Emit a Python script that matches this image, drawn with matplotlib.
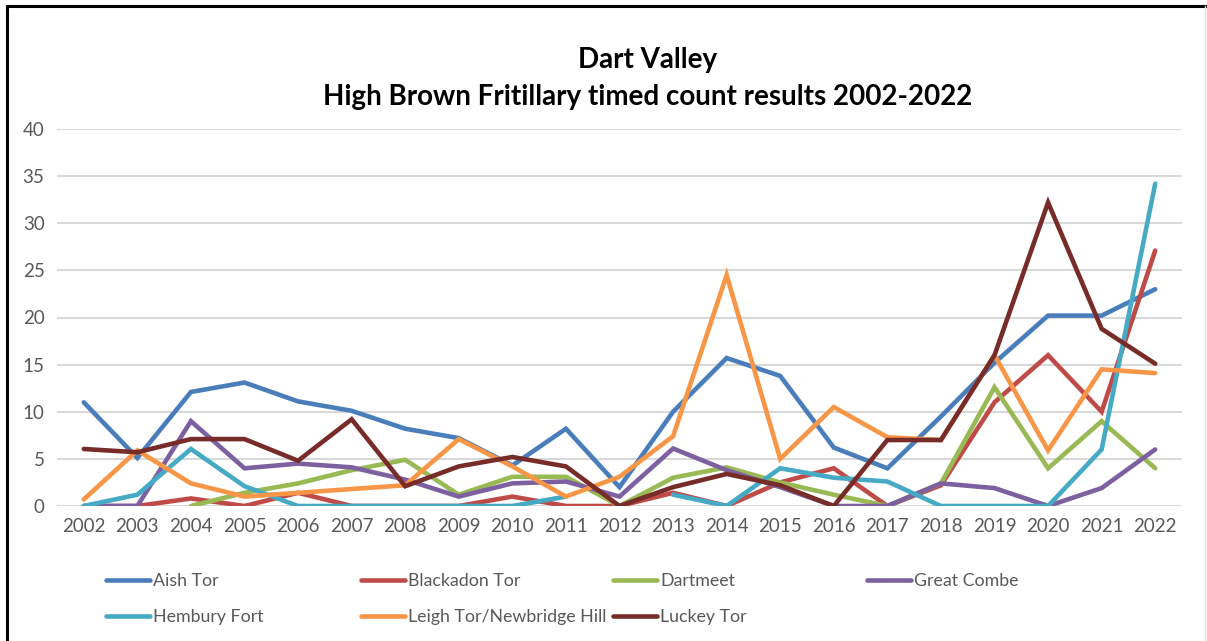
import numpy as np
import matplotlib
matplotlib.use('Agg')
import matplotlib.pyplot as plt
from matplotlib.lines import Line2D

plt.rcParams['font.family'] = ['Lato', 'DejaVu Sans']

# ── Data ─────────────────────────────────────────────────────────────────────
years = list(range(2002, 2023))
nan = np.nan

aish_tor = [11, 5.1, 12.1, 13.1, 11.1, 10.1, 8.2, 7.2, 4.3, 8.2, 2.0,
            10, 15.7, 13.8, 6.2, 4, 9.5, 15.2, 20.2, 20.2, 23]
blackadon_tor = [0, 0, 0.8, 0, 1.4, 0, 0, 0, 1.0, 0, 0,
                 1.4, 0, 2.5, 4, 0, 2.2, 11, 16, 10, 27.1]
dartmeet = [nan, nan, 0, 1.4, 2.4, 3.8, 4.9, 1.2, 3.1, 3.1, 0,
            3.0, 4.1, 2.5, 1.2, 0, 2.4, 12.6, 4, 9, 4]
great_combe = [0, 0, 9, 4.0, 4.5, 4.1, 2.8, 1.0, 2.4, 2.6, 1.0,
               6.1, 3.8, 2, 0, 0, 2.4, 1.9, 0, 1.9, 6]
hembury_fort = [0, 1.2, 6.05, 2.1, 0, 0, 0, 0, 0, 1.0, nan,
                1.2, 0, 4, 3, 2.6, 0, 0, 0, 6, 34.2]
leigh_tor = [0.7, 5.9, 2.4, 1.0, 1.4, 1.8, 2.2, 7.1, 4.2, 1.0, 3.1,
             7.4, 24.5, 5, 10.5, 7.3, 7, 16, 5.9, 14.5, 14.1]
luckey_tor = [6.05, 5.7, 7.1, 7.1, 4.8, 9.2, 2.1, 4.2, 5.2, 4.2, 0,
              2, 3.4, 2.2, 0, 7, 7, 16, 32.2, 18.8, 15.1]

series_names = ['Aish Tor', 'Blackadon Tor', 'Dartmeet', 'Great Combe',
                'Hembury Fort', 'Leigh Tor/Newbridge Hill', 'Luckey Tor']
series_values = [aish_tor, blackadon_tor, dartmeet, great_combe,
                 hembury_fort, leigh_tor, luckey_tor]
colors = ['#4A7EBB', '#BE4B48', '#98B954', '#7D60A0',
          '#46AAC5', '#F79646', '#772C2A']

# ── Plot ─────────────────────────────────────────────────────────────────────
W, H = 1207, 641
fig = plt.figure(figsize=(W / 100, H / 100), dpi=100)
ax = fig.add_axes([57 / W, 1 - 506 / H, (1182 - 57) / W, (506 - 129) / H])

lines = []
for name, vals, c in zip(series_names, series_values, colors):
    ln, = ax.plot(years, vals, color=c, lw=3.3, solid_joinstyle='miter',
                  solid_capstyle='round', label=name)
    lines.append(ln)

ax.set_xlim(2001.5, 2022.5)
ax.set_ylim(0, 40)
ax.set_yticks(range(0, 41, 5))
ax.set_xticks(years)
ax.set_xticklabels([str(y) for y in years])
ax.grid(axis='y', color='#D9D9D9', lw=1.5)
ax.set_axisbelow(True)
for s in ax.spines.values():
    s.set_visible(False)
ax.tick_params(axis='both', length=0, labelsize=13.5, labelcolor='#595959')
ax.tick_params(axis='y', pad=9)
ax.tick_params(axis='x', pad=9)

fig.text(648 / W, 1 - 60 / H, 'Dart Valley', ha='center', va='center',
         fontsize=20, fontweight='bold')
fig.text(648 / W, 1 - 97 / H, 'High Brown Fritillary timed count results 2002-2022',
         ha='center', va='center', fontsize=20, fontweight='bold')

# legend laid out in equal-width columns like the original
col_x = [97, 352, 604, 858]
columns = [[0, 4], [1, 5], [2, 6], [3]]
for cx, idx in zip(col_x, columns):
    fig.legend(handles=[lines[i] for i in idx], labels=[series_names[i] for i in idx],
               loc='upper left', bbox_to_anchor=(cx / W, 1 - 564 / H),
               frameon=False, fontsize=12.8, handlelength=2.5, handletextpad=0.15,
               labelspacing=1.15, borderpad=0, labelcolor='#595959')

# outer frame (top and left dark, right faint)
fig.add_artist(Line2D([7 / W, 1], [1 - 6 / H, 1 - 6 / H], color='black', lw=2.2))
fig.add_artist(Line2D([7 / W, 7 / W], [0, 1 - 6 / H], color='black', lw=2.2))
fig.add_artist(Line2D([1205 / W, 1205 / W], [0, 1 - 6 / H], color='#E0E0E0', lw=1))

fig.savefig('out.png', dpi=100)
